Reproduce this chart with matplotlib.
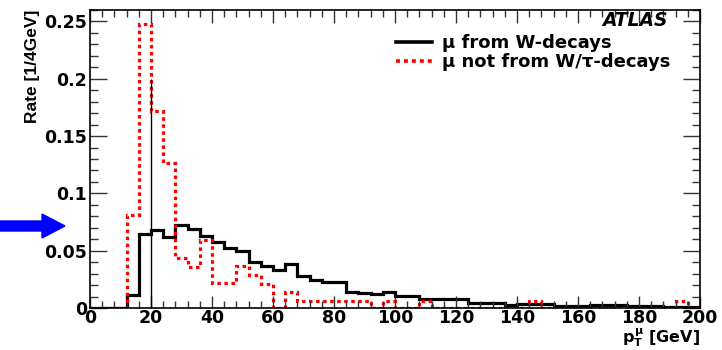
import matplotlib
matplotlib.use("Agg")
import matplotlib.pyplot as plt
from matplotlib.patches import FancyArrow
from matplotlib.lines import Line2D
from matplotlib.ticker import MultipleLocator, FixedLocator, FixedFormatter
from matplotlib.transforms import IdentityTransform

# ---------------- data ----------------
bin_edges = list(range(0, 201, 4))

w_decays = [0, 0, 0, 0.011, 0.065, 0.068, 0.062, 0.072, 0.069, 0.063,
            0.058, 0.052, 0.050, 0.040, 0.037, 0.033, 0.038, 0.028, 0.0245, 0.0224,
            0.0224, 0.0137, 0.0128, 0.012, 0.0143, 0.0108, 0.0108, 0.0079, 0.0075, 0.0082,
            0.008, 0.0047, 0.004, 0.0045, 0.003, 0.0035, 0.0035, 0.0035, 0.0017, 0.0017,
            0.0017, 0.0026, 0.0026, 0.0026, 0.0015, 0.0015, 0.0015, 0.0012, 0.0012, 0.001]

not_w = [0, 0, 0, 0.081, 0.248, 0.172, 0.1265, 0.044, 0.036, 0.059,
         0.0216, 0.0216, 0.037, 0.029, 0.021, 0, 0.0143, 0.0064, 0.0064, 0.0064,
         0.0064, 0.0064, 0.0064, 0, 0.0064, 0, 0, 0.006, 0, 0,
         0, 0, 0, 0, 0, 0, 0.006, 0, 0, 0,
         0, 0, 0, 0, 0, 0, 0, 0, 0.0064, 0]

spike_x = [20]
spike_top = [0.2]

y_ticks = [0, 0.05, 0.1, 0.15, 0.2, 0.25]
y_tick_labels = ["0", "0.05", "0.1", "0.15", "0.2", "0.25"]
x_ticks = [0, 20, 40, 60, 80, 100, 120, 140, 160, 180, 200]
x_tick_labels = ["0", "20", "40", "60", "80", "100", "120", "140", "160", "180", "200"]

legend_labels = ["\u03bc from W-decays", "\u03bc not from W/\u03c4-decays"]

# ---------------- style ----------------
plt.rcParams['font.family'] = ['DejaVu Sans']
plt.rcParams['font.weight'] = 'bold'
plt.rcParams['mathtext.fontset'] = 'custom'
plt.rcParams['mathtext.rm'] = 'DejaVu Sans:bold'
plt.rcParams['mathtext.it'] = 'DejaVu Sans:bold'
plt.rcParams['mathtext.bf'] = 'DejaVu Sans:bold'

W, H = 722, 350
fig = plt.figure(figsize=(W / 100, H / 100), dpi=100)
ax = fig.add_axes([90 / W, 42 / H, 610 / W, 298 / H])

ax.stairs(w_decays, bin_edges, color='black', lw=2.3, baseline=0)
ax.stairs(not_w, bin_edges, color='red', lw=2.3, baseline=0,
          linestyle=(0, (1.1, 1.1)))
ax.vlines(spike_x, 0, spike_top, color='black', lw=1.0)

ax.set_xlim(0, 200)
ax.set_ylim(0, 0.26)

ax.xaxis.set_major_locator(FixedLocator(x_ticks))
ax.xaxis.set_major_formatter(FixedFormatter(x_tick_labels))
ax.xaxis.set_minor_locator(MultipleLocator(4))
ax.yaxis.set_major_locator(FixedLocator(y_ticks))
ax.yaxis.set_major_formatter(FixedFormatter(y_tick_labels))
ax.yaxis.set_minor_locator(MultipleLocator(0.01))

ax.tick_params(axis='both', which='both', direction='in', top=True, right=True,
               labelsize=12.5, width=1.0, color='#333333')
ax.tick_params(axis='x', which='major', length=9, pad=1)
ax.tick_params(axis='x', which='minor', length=5)
ax.tick_params(axis='y', which='major', length=12, pad=2)
ax.tick_params(axis='y', which='minor', length=6)
for lab in ax.get_xticklabels() + ax.get_yticklabels():
    lab.set_fontweight('bold')
for sp in ax.spines.values():
    sp.set_linewidth(1.2)

ax.set_ylabel("Rate [1/4GeV]", loc='top', fontsize=12.5, fontweight='bold',
              labelpad=3, family=['Liberation Sans', 'DejaVu Sans'])
fig.text(700 / W, 1 - 342.5 / H, "$p_{T}^{\\mu}$ [GeV]", ha='right', va='baseline',
         fontsize=11.5, fontweight='bold')

handles = [Line2D([], [], color='black', lw=2.6),
           Line2D([], [], color='red', lw=2.6, linestyle=(0, (1.1, 1.1)))]
leg = fig.legend(handles, legend_labels, loc='upper left',
                 bbox_to_anchor=(396 / W, 1 - 34 / H), frameon=False,
                 fontsize=13, handlelength=2.0, handletextpad=0.55,
                 labelspacing=0.05, borderpad=0, borderaxespad=0)
for t in leg.get_texts():
    t.set_fontweight('bold')

fig.text(668 / W, 1 - 20 / H, "ATLAS", ha='right', va='center', fontsize=13.5,
         fontweight='bold', style='italic')

arrow = FancyArrow(0, H - 226, 65, 0, width=10, head_width=24, head_length=23,
                   length_includes_head=True, color='#0000ff',
                   transform=IdentityTransform())
fig.add_artist(arrow)

fig.savefig("out.png", dpi=100)
